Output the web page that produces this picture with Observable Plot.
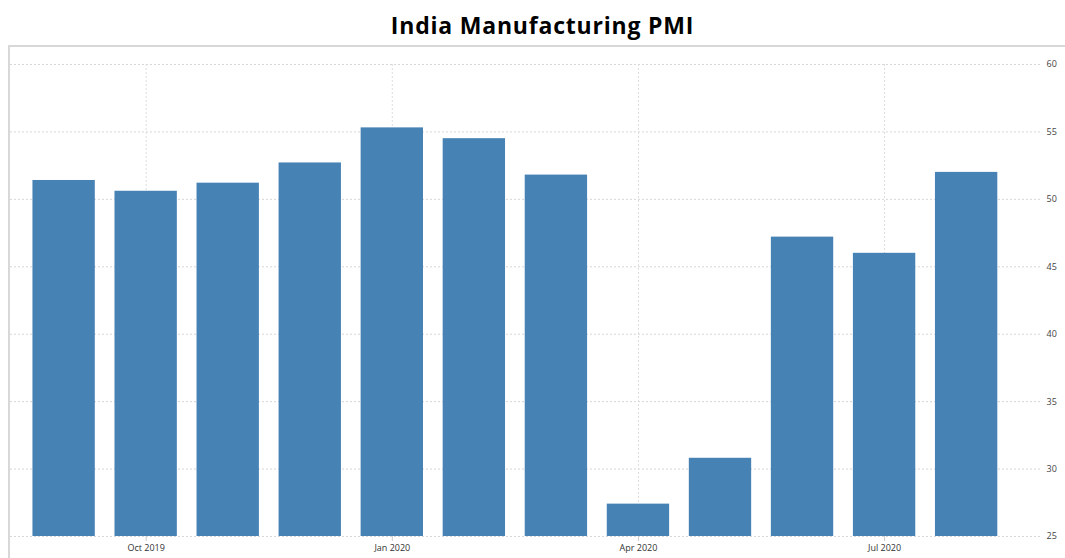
<!DOCTYPE html>
<html>
<head>
<meta charset="utf-8">
<script src="https://cdn.jsdelivr.net/npm/d3@7"></script>
<script src="https://cdn.jsdelivr.net/npm/@observablehq/plot@0.6"></script>
<style>
  html, body { margin: 0; padding: 0; background: #fff; width: 1065px; height: 558px; overflow: hidden; }
  #title { height: 45px; box-sizing: border-box; padding-top: 13px; padding-left: 20px; text-align: center;
           font-family: "Open Sans", Lato, sans-serif; font-weight: 700; font-size: 23px; line-height: 24px; letter-spacing: 0.8px; color: #000; }
  #frame { margin-left: 8px; border-top: 2px solid #d8d8d8; border-left: 2px solid #d8d8d8; height: 511px; }
  #frame svg { display: block; }
</style>
</head>
<body>
<div id="title">India Manufacturing PMI</div>
<div id="frame"></div>
<script>
const months = ["Sep 2019","Oct 2019","Nov 2019","Dec 2019","Jan 2020","Feb 2020","Mar 2020","Apr 2020","May 2020","Jun 2020","Jul 2020","Aug 2020"];
const pmi = [51.4, 50.6, 51.2, 52.7, 55.3, 54.5, 51.8, 27.4, 30.8, 47.2, 46.0, 52.0];
const xTicks = ["Oct 2019","Jan 2020","Apr 2020","Jul 2020"];
const yTicks = [25, 30, 35, 40, 45, 50, 55, 60];
const yBase = 25;

const data = months.map((m, i) => ({month: m, value: pmi[i]}));

const chart = Plot.plot({
  width: 1055,
  height: 511,
  marginLeft: 0,
  marginRight: 25,
  marginTop: 17,
  marginBottom: 22,
  style: {fontFamily: "'Open Sans', sans-serif", fontSize: "9px", color: "#333", background: "#fff"},
  x: {domain: months, range: [2.75, 1007], padding: 0.24, round: false},
  y: {domain: [yTicks[0], yTicks[yTicks.length - 1]]},
  marks: [
    Plot.gridY(yTicks, {stroke: "#d6d6d6", strokeOpacity: 1, strokeDasharray: "2,2"}),
    Plot.gridX(xTicks, {stroke: "#dcdcdc", strokeOpacity: 1, strokeDasharray: "2,2"}),
    Plot.barY(data, {x: "month", y1: yBase, y2: "value", fill: "#4682b4"}),
    Plot.axisY(yTicks, {anchor: "right", tickSize: 0, tickPadding: 6, textAnchor: "start", label: null, fill: "#444"}),
    Plot.axisX(xTicks, {anchor: "bottom", tickSize: 5, tickPadding: 3, label: null, stroke: "#ccc", fill: "#333"})
  ]
});
document.getElementById("frame").appendChild(chart);
</script>
</body>
</html>
